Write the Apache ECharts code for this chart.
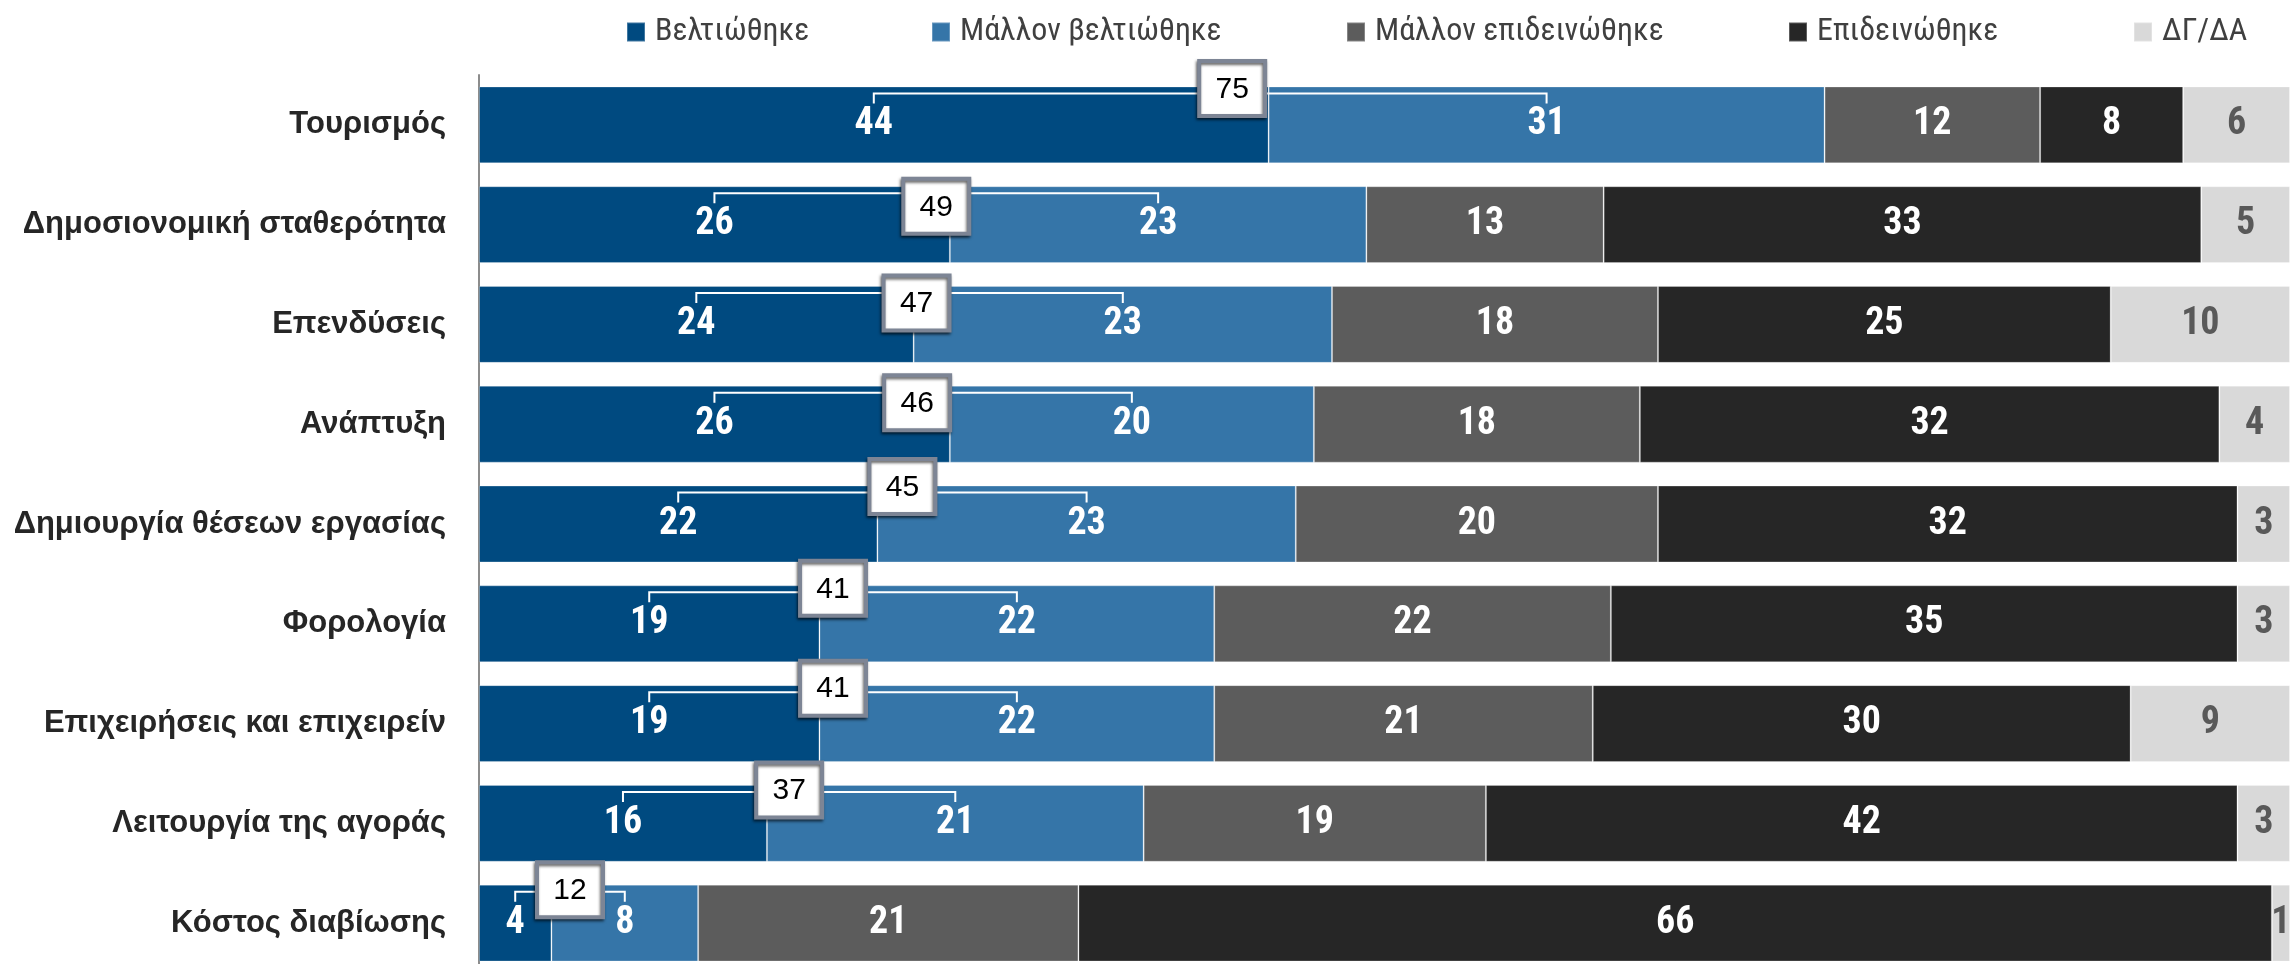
<!DOCTYPE html>
<html>
<head>
<meta charset="utf-8">
<script src="https://cdn.jsdelivr.net/npm/echarts@6/dist/echarts.min.js"></script>
<style>
html,body{margin:0;padding:0;background:#fff;}
#chart{width:2295px;height:964px;}
</style>
</head>
<body>
<div id="chart"></div>
<script>
// ---- data ----
const categories = ["Τουρισμός","Δημοσιονομική σταθερότητα","Επενδύσεις","Ανάπτυξη","Δημιουργία θέσεων εργασίας","Φορολογία","Επιχειρήσεις και επιχειρείν","Λειτουργία της αγοράς","Κόστος διαβίωσης"];
const seriesNames = ["Βελτιώθηκε","Μάλλον βελτιώθηκε","Μάλλον επιδεινώθηκε","Επιδεινώθηκε","ΔΓ/ΔΑ"];
// bar lengths (percent, as drawn)
const improved       = [43.6, 26.0, 24.0, 26.0, 22.0, 18.8, 18.8, 15.9, 4.0];
const ratherImproved = [30.7, 23.0, 23.1, 20.1, 23.1, 21.8, 21.8, 20.8, 8.1];
const ratherWorse    = [11.9, 13.1, 18.0, 18.0, 20.0, 21.9, 20.9, 18.9, 21.0];
const worse          = [7.9, 33.0, 25.0, 32.0, 32.0, 34.6, 29.7, 41.5, 65.9];
const dkna           = [5.9, 4.9, 9.9, 3.9, 2.9, 2.9, 8.8, 2.9, 1.0];
// printed labels
const improvedLbl       = [44, 26, 24, 26, 22, 19, 19, 16, 4];
const ratherImprovedLbl = [31, 23, 23, 20, 23, 22, 22, 21, 8];
const ratherWorseLbl    = [12, 13, 18, 18, 20, 22, 21, 19, 21];
const worseLbl          = [8, 33, 25, 32, 32, 35, 30, 42, 66];
const dknaLbl           = [6, 5, 10, 4, 3, 3, 9, 3, 1];
const totalPositive     = [75, 49, 47, 46, 45, 41, 41, 37, 12];

// ---- layout / style ----
const colors = ["#004a80","#3575a8","#5c5c5c","#262626","#d9d9d9"];
const values = [improved, ratherImproved, ratherWorse, worse, dkna];
const labels = [improvedLbl, ratherImprovedLbl, ratherWorseLbl, worseLbl, dknaLbl];
const legendLeft = [621, 926, 1341, 1783, 2128];
// manual placement of the total boxes (px, relative to bar top / bracket middle)
const boxDy = [2, 20, 17, 17, 1, 3, 3, 5, 5];
const boxDx = [22, 0, 7, -6, 20, 0, 0, 0, 0];

const NARROW = "'Roboto Condensed','Liberation Sans Narrow',sans-serif";
const ARIAL = "'Liberation Sans',Arial,sans-serif";
const BAR_FRAC = 0.77;

const chart = echarts.init(document.getElementById('chart'), null, {renderer:'canvas'});

const barSeries = seriesNames.map((n, i) => ({
  name: n,
  type: 'bar',
  stack: 'total',
  barCategoryGap: '23%',
  itemStyle: {color: colors[i], borderColor: 'rgba(255,255,255,0.25)', borderWidth: 1},
  label: {
    show: true,
    position: 'inside',
    fontFamily: NARROW,
    fontWeight: 'bold',
    fontSize: 38,
    color: i === 4 ? '#595959' : '#ffffff',
    formatter: p => String(labels[i][p.dataIndex])
  },
  emphasis: {disabled: true},
  data: values[i]
}));

const bracketData = categories.map((c, k) => [k, improved[k], ratherImproved[k], totalPositive[k]]);

const bracketSeries = {
  type: 'custom',
  z: 10,
  clip: false,
  encode: {x: 1, y: 0},
  data: bracketData,
  renderItem: function (params, api) {
    const idx = api.value(0);
    const a = api.value(1), b = api.value(2), tot = api.value(3);
    const p0 = api.coord([a / 2, idx]);
    const p1 = api.coord([a + b / 2, idx]);
    const band = api.size([0, 1])[1];
    const top = p0[1] - band * BAR_FRAC / 2;
    const ly = top + 7;
    const mid = (p0[0] + p1[0]) / 2 + boxDx[idx];
    const cy = top + boxDy[idx];
    const w = 66, h = 55;
    return {
      type: 'group',
      children: [
        {
          type: 'polyline',
          shape: {points: [[p0[0], ly + 10], [p0[0], ly], [p1[0], ly], [p1[0], ly + 10]]},
          style: {stroke: '#ffffff', lineWidth: 2, fill: null}
        },
        {
          type: 'rect',
          shape: {x: mid - w / 2, y: cy - h / 2, width: w, height: h},
          style: {fill: '#ffffff', stroke: '#7d8595', lineWidth: 4,
                  shadowColor: 'rgba(0,0,0,0.6)', shadowBlur: 3, shadowOffsetX: -1, shadowOffsetY: 2}
        },
        {
          type: 'text',
          x: mid, y: cy + 1,
          style: {text: String(tot), fill: '#000000', fontSize: 30,
                  fontFamily: ARIAL,
                  align: 'center', verticalAlign: 'middle'}
        }
      ]
    };
  }
};

const option = {
  animation: false,
  backgroundColor: '#ffffff',
  legend: seriesNames.map((n, i) => ({
    data: [n],
    left: legendLeft[i],
    top: 10,
    itemWidth: 18,
    itemHeight: 19,
    icon: 'rect',
    selectedMode: false,
    textStyle: {fontFamily: NARROW, fontSize: 32, color: '#404040', lineHeight: 34, padding: [0, 0, 0, 5]}
  })),
  grid: {left: 479, right: 5, top: 75, height: 898, containLabel: false, outerBoundsMode: 'none'},
  xAxis: {type: 'value', min: 0, max: 100, show: false},
  yAxis: {
    type: 'category',
    inverse: true,
    data: categories,
    axisTick: {show: false},
    axisLine: {show: true, lineStyle: {color: '#8c8c8c', width: 2}},
    axisLabel: {fontFamily: ARIAL, fontWeight: 'bold', fontSize: 31, color: '#262626', margin: 33}
  },
  series: barSeries.concat([bracketSeries])
};
chart.setOption(option);
</script>
</body>
</html>
